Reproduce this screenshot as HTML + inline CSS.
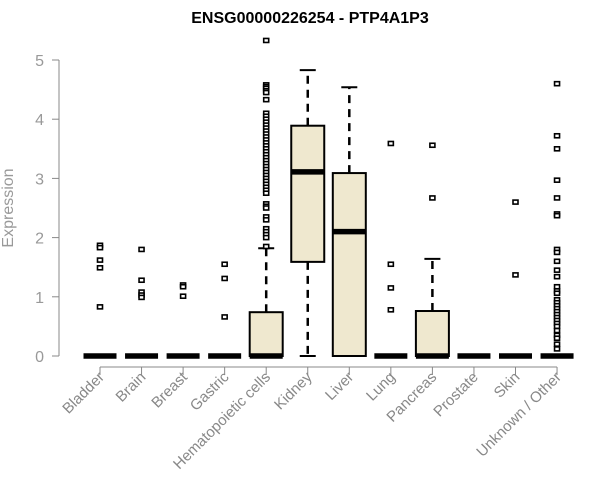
<!DOCTYPE html>
<html><head><meta charset="utf-8"><style>
body{margin:0;background:#fff;width:600px;height:500px;overflow:hidden}
svg{display:block;font-family:"Liberation Sans",Arial,sans-serif}
</style></head><body>
<svg id="chart" width="600" height="500" viewBox="0 0 600 500">
<text x="310" y="23" text-anchor="middle" font-weight="bold" font-size="16" fill="#000">ENSG00000226254 - PTP4A1P3</text>
<text transform="translate(13,208) rotate(-90)" text-anchor="middle" font-size="16" fill="#999">Expression</text>
<g id="yaxis"></g>
<g id="xaxis"></g>
<g id="boxes"></g>
</svg>
<script>
const categories=["Bladder","Brain","Breast","Gastric","Hematopoietic cells","Kidney","Liver","Lung","Pancreas","Prostate","Skin","Unknown / Other"];
const q1=[0,0,0,0,0,1.59,0,0,0,0,0,0];
const median=[0,0,0,0,0,3.11,2.10,0,0,0,0,0];
const q3=[0,0,0,0,0.74,3.89,3.09,0,0.76,0,0,0];
const whiskerLow=[0,0,0,0,0,0,0,0,0,0,0,0];
const whiskerHigh=[0,0,0,0,1.82,4.83,4.54,0,1.64,0,0,0];
const outliers=[
 [1.87,1.83,1.62,1.49,0.83],
 [1.8,1.28,1.08,1.03,0.99],
 [1.2,1.17,1.01],
 [1.55,1.31,0.66],
 [5.33,4.58,4.55,4.52,4.48,4.45,4.33,4.1,4.05,4.0,3.95,3.9,3.85,3.8,3.75,3.7,3.65,3.6,3.55,3.5,3.45,3.4,3.35,3.3,3.25,3.2,3.15,3.1,3.05,3.0,2.95,2.9,2.85,2.8,2.75,2.57,2.53,2.5,2.35,2.3,2.15,2.1,2.05,2.0,1.85],
 [],[],
 [3.59,1.55,1.15,0.78],
 [3.56,2.67],
 [],
 [2.6,1.37],
 [4.6,3.72,3.5,2.97,2.67,2.4,2.37,1.8,1.75,1.6,1.45,1.34,1.17,1.1,1.06,0.95,0.9,0.85,0.8,0.75,0.7,0.65,0.6,0.55,0.5,0.43,0.35,0.3,0.2,0.12]
];
const yTicks=[0,1,2,3,4,5];
const NS="http://www.w3.org/2000/svg";
const y=v=>356-v*59.2;
const x=i=>100+i*41.55;
function mk(tag,attrs,parent){const e=document.createElementNS(NS,tag);for(const k in attrs)e.setAttribute(k,attrs[k]);parent.appendChild(e);return e;}
const ya=document.getElementById('yaxis'),xa=document.getElementById('xaxis'),bx=document.getElementById('boxes');
mk('line',{x1:59,x2:59,y1:y(0),y2:y(5),stroke:'#888'},ya);
yTicks.forEach(t=>{
 const l=mk('line',{x1:52,x2:59,y1:y(t),y2:y(t),stroke:'#888'},ya);
 
 
 const tx=mk('text',{x:44,y:y(t)+6,'text-anchor':'end','font-size':16,fill:'#999'},ya);
 tx.textContent=t;
 
 
});
mk('line',{x1:x(0),x2:x(categories.length-1),y1:367,y2:367,stroke:'#888'},xa);
categories.forEach((c,i)=>{
 const l=mk('line',{x1:x(i),x2:x(i),y1:367,y2:375,stroke:'#888'},xa);
 
 
 const tx=mk('text',{transform:`translate(${x(i)+5},${378}) rotate(-45)`,'text-anchor':'end','font-size':15,fill:'#888'},xa);
 tx.textContent=c;
 
 
 const g=mk('g',{},bx);
 
 
 const cx=x(i),hw=16.5;
 if(whiskerHigh[i]>q3[i]){
  mk('line',{x1:cx,x2:cx,y1:y(q3[i]),y2:y(whiskerHigh[i]),stroke:'#000','stroke-width':2.5,'stroke-dasharray':'8,6'},g);
  mk('line',{x1:cx-8,x2:cx+8,y1:y(whiskerHigh[i]),y2:y(whiskerHigh[i]),stroke:'#000','stroke-width':2},g);
 }
 if(q1[i]>whiskerLow[i]){
  mk('line',{x1:cx,x2:cx,y1:y(q1[i]),y2:y(whiskerLow[i]),stroke:'#000','stroke-width':2.5,'stroke-dasharray':'8,6'},g);
  mk('line',{x1:cx-8,x2:cx+8,y1:y(whiskerLow[i]),y2:y(whiskerLow[i]),stroke:'#000','stroke-width':2},g);
 }
 if(q3[i]>q1[i]){
  mk('rect',{x:cx-hw,y:y(q3[i]),width:hw*2,height:y(q1[i])-y(q3[i]),fill:'#EFE8CF',stroke:'#000','stroke-width':2},g);
 }
 mk('line',{x1:cx-hw,x2:cx+hw,y1:y(median[i]),y2:y(median[i]),stroke:'#000','stroke-width':5.5},g);
 outliers[i].forEach(v=>{
  const p=mk('rect',{x:cx-2.5,y:y(v)-2,width:5,height:4,fill:'#fff',stroke:'#000','stroke-width':1.6},g);
  
  
 });
});
</script>
</body></html>
